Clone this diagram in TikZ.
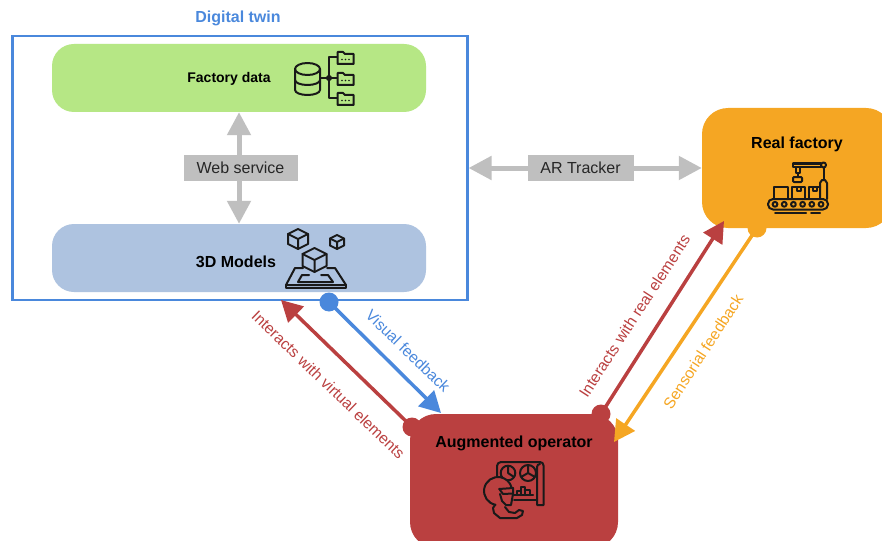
\documentclass[tikz,border=0pt]{standalone}
\usepackage{fontspec}
\setmainfont{Liberation Sans}
\usetikzlibrary{arrows.meta}
\definecolor{cblue}{HTML}{4A88DC}
\definecolor{cgreen}{HTML}{B6E785}
\definecolor{cmodel}{HTML}{AEC3E0}
\definecolor{corange}{HTML}{F5A623}
\definecolor{cred}{HTML}{BA4040}
\definecolor{cgray}{HTML}{BFBFBF}
\tikzset{
  px/.style={x=1pt,y=-1pt},
  pill/.style={draw=none,rounded corners=22pt,minimum width=374pt,minimum height=68pt,inner sep=0pt},
  block/.style={draw=none,rounded corners=26pt,inner sep=0pt},
  title/.style={font=\bfseries\fontsize{16}{18}\selectfont,text=black,inner sep=0pt},
  tag/.style={fill=cgray,minimum height=26pt,inner sep=0pt,font=\fontsize{16}{18}\selectfont,text=black!85},
  slant/.style={inner sep=0pt,font=\fontsize{15.6}{18}\selectfont},
  gray arrow/.style={draw=cgray,line width=5pt,{Triangle[length=23pt,width=23pt]}-{Triangle[length=23pt,width=23pt]}},
  link/.style={line width=3.5pt,-{Triangle[length=21pt,width=22pt]}},
  dot/.style={circle,minimum size=19pt,inner sep=0pt},
  icon/.style={line width=2pt,draw=black!90,line join=round,line cap=round,fill=none}
}
\begin{document}
\begin{tikzpicture}[px]
\useasboundingbox (0,0) rectangle (882,540);
\clip (0,0) rectangle (882,540);
% boxes
\node[draw=cblue,line width=2.7pt,minimum width=455pt,minimum height=264pt,inner sep=0pt,fill=white] (twin) at (239.7,168) {};
\node[title,text=cblue] (twinlabel) at (238,18) {Digital twin};
\node[pill,fill=cgreen] (factory) at (239,78) {};
\node[pill,fill=cmodel] (models) at (239,258) {};
\node[block,fill=corange,minimum width=190pt,minimum height=120pt] (real) at (797,168) {};
\node[block,fill=cred,minimum width=208pt,minimum height=134pt] (oper) at (514,481) {};
\node[title,font=\bfseries\fontsize{14}{16}\selectfont] (factorylabel) at (229,78.5) {Factory data};
\node[title] (modelslabel) at (236,262) {3D Models};
\node[title] (reallabel) at (797,144) {Real factory};
\node[title] (operlabel) at (514,443) {Augmented operator};
% grey connectors
\draw[gray arrow] (factory) -- (models) node[midway,tag,minimum width=114pt,xshift=1.5pt] (web) {Web service};
\draw[gray arrow] (twin) -- (real) node[pos=0.48,tag,minimum width=106pt] (ar) {AR Tracker};
% dots
\node[dot,fill=cblue] (dblue) at (329,302) {};
\node[dot,fill=cred] (dredl) at (412,427) {};
\node[dot,fill=cred] (dredr) at (601,414) {};
\node[dot,fill=corange] (dorange) at (757,228) {};
\coordinate (tblue) at (441,413);
\coordinate (tredl) at (281,300);
\coordinate (tredr) at (724,221);
\coordinate (torange) at (614,442);
\draw[link,draw=cblue,fill=cblue] (dblue.center) -- (tblue);
\draw[link,draw=cred,fill=cred] (dredl.center) -- (tredl);
\draw[link,draw=cred,fill=cred] (dredr.center) -- (tredr);
\draw[link,draw=corange,fill=corange] (dorange.center) -- (torange);
% labels
\node[slant,text=cred,rotate=-44] (lvirt) at (328.5,385) {Interacts with virtual elements};
\node[slant,text=cblue,rotate=-44] (lvis) at (408,351) {Visual feedback};
\node[slant,text=cred,rotate=57] (lreal) at (634.5,316) {Interacts with real elements};
\node[slant,text=corange,rotate=57] (lsens) at (703,351.5) {Sensorial feedback};
% database icon
\begin{scope}[icon]
 \draw (307.5,69) ellipse[x radius=12.5,y radius=6];
 \draw (295,69) -- (295,90) arc[start angle=180,end angle=0,x radius=12.5,y radius=5] -- (320,69);
 \draw (295,80) arc[start angle=180,end angle=0,x radius=12.5,y radius=5];
 \draw (321,78) -- (337,78);
 \draw (337,57) -- (329,57) -- (329,98) -- (337,98);
 \draw (329,78) circle[radius=2];
 \foreach \y in {52,73,93} {
  \draw (337.5,\y) -- (343,\y) -- (345,\y+2) -- (353.5,\y+2) -- (353.5,\y+12) -- (337.5,\y+12) -- cycle;
  \fill[black!90] (342,\y+7.5) circle[radius=.8] (345.5,\y+7.5) circle[radius=.8] (349,\y+7.5) circle[radius=.8];
 }
\end{scope}
% cubes icon
\begin{scope}[icon]
 \foreach \cx/\cy/\r in {298/239/10,337/242/7,314.5/260/12} {
  \draw (\cx,\cy-\r) -- (\cx+\r,\cy-\r*.5) -- (\cx+\r,\cy+\r*.5) -- (\cx,\cy+\r) -- (\cx-\r,\cy+\r*.5) -- (\cx-\r,\cy-\r*.5) -- cycle;
  \draw (\cx-\r,\cy-\r*.5) -- (\cx,\cy) -- (\cx+\r,\cy-\r*.5) (\cx,\cy) -- (\cx,\cy+\r);
 }
 \draw (303,268) -- (295,268) -- (286,285) -- (346,285) -- (335,268) -- (327,268);
 \draw (286,285) -- (286,288) -- (346,288) -- (346,285);
 \draw (309,275) -- (302,275) -- (298,282) -- (333,282) -- (328,275) -- (321,275);
\end{scope}
% factory icon
\begin{scope}[icon]
 \draw[rounded corners=5pt] (768,199) rectangle (828,209.5);
 \foreach \x in {775,784.2,793.4,802.6,811.8,821} \draw (\x,204.3) circle[radius=2.4];
 \draw (775,213) -- (806,213) (811,213) -- (820,213);
 \draw (774,199) -- (774,187) -- (788,187) -- (788,199);
 \draw (792,199) -- (792,187) -- (805,187) -- (805,199) (796.5,187) -- (796.5,191) -- (800.5,191) -- (800.5,187);
 \draw (809,199) -- (809,187) -- (820,187) (812.5,187) -- (812.5,191) -- (816.5,191) -- (816.5,187);
 \draw (820,199) -- (820,183) -- (822,180) -- (825,180) -- (827,183) -- (827,199);
 \draw (823.5,180) -- (823.5,168);
 \draw (793,163.5) rectangle (820.5,166.5);
 \draw (823.5,165) circle[radius=2.5];
 \draw (795.5,167) -- (795.5,173) -- (799.5,173) -- (799.5,167) (797.5,173) -- (797.5,177);
 \draw[rounded corners=1pt] (793,177) rectangle (802,182);
\end{scope}
% operator icon
\begin{scope}[icon]
 \draw (497,480) -- (497,466) arc[start angle=180,end angle=270,radius=4] -- (540,462) arc[start angle=270,end angle=360,radius=3.5] -- (543.5,505) -- (537,505) -- (537,467);
 \draw (537,467) arc[start angle=180,end angle=270,radius=3];
 \draw (508,473) circle[radius=7.3];
 \draw (508,473) -- (508,466) (508,473) -- (514,477);
 \draw (528,473) circle[radius=8] (528,473) -- (528,465) (528,473) -- (521,477) (528,473) -- (535,477);
 \draw (516.5,495) -- (516.5,491) -- (520.5,491) -- (520.5,495) (520.5,491) -- (520.5,486.5) -- (524.5,486.5) -- (524.5,495) (524.5,490) -- (530,490) -- (530,495) (514,495) -- (533,495);
 \draw (514,500) -- (537,500);
 \path[fill=cred] (495.6,504.8) arc[start angle=100,end angle=345,radius=14] -- (513,505) -- cycle;
 \draw (495.6,504.8) arc[start angle=100,end angle=345,radius=14];
 \draw (499,489) -- (513,488) -- (513,493.5) -- (503,494) -- (500,490);
 \draw (500,494) -- (502,501) -- (506,505) -- (511,505) -- (513,494);
 \draw (495,505) -- (493,508) -- (494,513) -- (500,518) -- (517,518) -- (522,515) -- (523,511) -- (519,510) -- (515,513) -- (509,512) -- (505,507);
\end{scope}
\end{tikzpicture}
\end{document}
